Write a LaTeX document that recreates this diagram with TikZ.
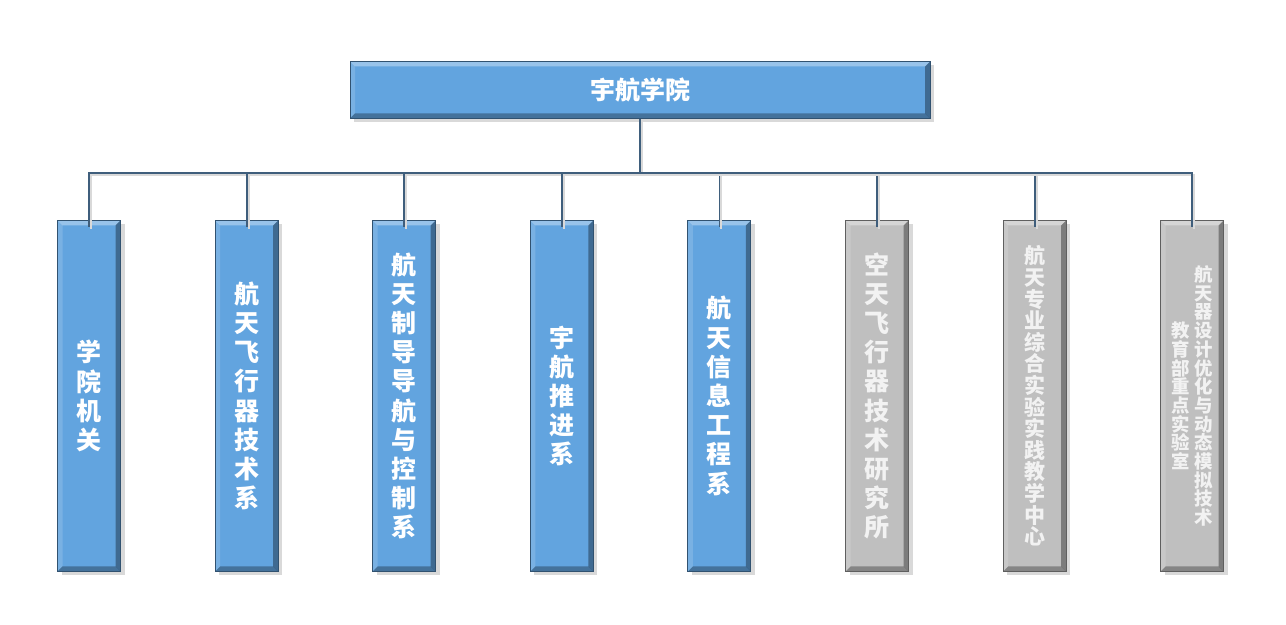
\documentclass[tikz,border=0pt]{standalone}
\usepackage{fontspec}
\newfontfamily\cjk{Noto Sans CJK SC}
\usetikzlibrary{shadows}
\definecolor{deptblue}{HTML}{62A4DF}
\definecolor{deptgray}{HTML}{BFBFBF}
\definecolor{linkcol}{HTML}{3F5E7C}
\newcommand\bigcn{\cjk\bfseries\fontsize{12.5}{14.6}\selectfont}
\newcommand\midcn{\cjk\bfseries\fontsize{10.5}{10.8}\selectfont}
\newcommand\smallcn{\cjk\bfseries\fontsize{9.2}{9.35}\selectfont}
\newcommand\vcol[1]{\begin{minipage}[c]{1em}\centering #1\end{minipage}}
\tikzset{
  bevel/.style={fill=#1, draw=#1!50!black, line width=0.5pt, inner sep=0pt,
    drop shadow={shadow xshift=2pt, shadow yshift=-2pt, opacity=0.3},
    path picture={
      \path (path picture bounding box.north west) coordinate (pnw)
            (path picture bounding box.north east) coordinate (pne)
            (path picture bounding box.south west) coordinate (psw)
            (path picture bounding box.south east) coordinate (pse);
      % light top and left, dark right and bottom
      \fill[white, opacity=0.35] (pnw) -- (pne) -- ([shift={(-2.5pt,-2.5pt)}]pne) -- ([shift={(2.5pt,-2.5pt)}]pnw) -- cycle;
      \fill[white, opacity=0.15] (pnw) -- ([shift={(2.5pt,-2.5pt)}]pnw) -- ([shift={(2.5pt,2.5pt)}]psw) -- (psw) -- cycle;
      \fill[black, opacity=0.35] (pne) -- (pse) -- ([shift={(-2.5pt,2.5pt)}]pse) -- ([shift={(-2.5pt,-2.5pt)}]pne) -- cycle;
      \fill[black, opacity=0.3] (psw) -- (pse) -- ([shift={(-2.5pt,2.5pt)}]pse) -- ([shift={(2.5pt,2.5pt)}]psw) -- cycle;
    }},
  dept/.style={bevel=#1, minimum width=31.5pt, minimum height=175.5pt, align=center},
  link/.style={draw=linkcol, line width=0.9pt,
    preaction={draw=black!15, line width=1pt, transform canvas={xshift=1pt, yshift=-1pt}}},
}
\begin{document}
\begin{tikzpicture}[x=0.5pt, y=-0.5pt]
  \useasboundingbox (0,0) rectangle (1286,625);
  \node[bevel=deptblue, minimum width=290pt, minimum height=28.5pt, text=white, font=\bigcn] (top) at (640,90) {宇航学院};
  \coordinate (bus) at (640,173);
  \foreach \i/\x/\col/\fnt/\txt in {
      1/89/deptblue/\bigcn/{学\\院\\机\\关},
      2/246.6/deptblue/\bigcn/{航\\天\\飞\\行\\器\\技\\术\\系},
      3/404.2/deptblue/\bigcn/{航\\天\\制\\导\\导\\航\\与\\控\\制\\系},
      4/561.8/deptblue/\bigcn/{宇\\航\\推\\进\\系},
      5/719.4/deptblue/\bigcn/{航\\天\\信\\息\\工\\程\\系},
      6/877/deptgray/\bigcn/{空\\天\\飞\\行\\器\\技\\术\\研\\究\\所},
      7/1034.6/deptgray/\midcn/{航\\天\\专\\业\\综\\合\\实\\验\\实\\践\\教\\学\\中\\心},
      8/1192.2/deptgray/\smallcn/{\vcol{教\\育\\部\\重\\点\\实\\验\\室}\hspace{2pt}\vcol{航\\天\\器\\设\\计\\优\\化\\与\\动\\态\\模\\拟\\技\\术}}} {
    \ifnum\i>5
      \node[dept=\col, text=white!95!black, font=\fnt] (d\i) at (\x,396) {\txt};
    \else
      \node[dept=\col, text=white, font=\fnt] (d\i) at (\x,396) {\txt};
    \fi
  }
  % connectors from the college to each unit
  \foreach \i in {1,...,8}
    \draw[link] (top.south) -- (top.south |- bus) -| ([yshift=-3.5pt]d\i.north);
\end{tikzpicture}
\end{document}
